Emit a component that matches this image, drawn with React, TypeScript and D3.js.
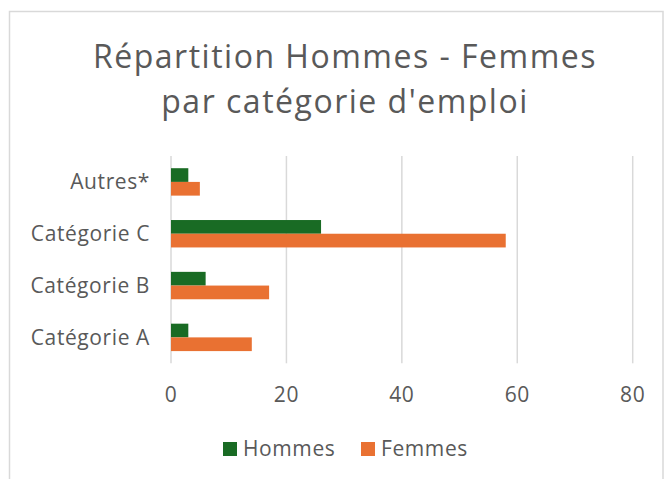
import React from 'react';
import * as d3 from 'd3';

const categories = ['Autres*', 'Catégorie C', 'Catégorie B', 'Catégorie A'];
const hommes = [3, 26, 6, 3];
const femmes = [5, 58, 17, 14];
const series = ['Hommes', 'Femmes'];
const colors = ['#196B24', '#E97132'];
const xTicks = [0, 20, 40, 60, 80];
const titleLines = ['Répartition Hommes - Femmes', "par catégorie d'emploi"];

const W = 664,
  H = 479,
  font = "'Open Sans', sans-serif",
  textColor = '#595959';

const x = d3.scaleLinear().domain([0, 80]).range([171, 632.7]);
const y = d3.scaleBand().domain(categories).range([156, 363.3]).paddingInner(0.471).paddingOuter(0.2355);
const sub = d3.scaleBand().domain(series).range([0, y.bandwidth()]);

// text style shared by axis labels and legend
const small = { fontFamily: font, fontSize: 21, fill: textColor, letterSpacing: 0.6 };
const big = { fontFamily: font, fontSize: 32, fill: textColor, letterSpacing: 1.5 };

export default function App() {
  const values = [hommes, femmes];
  return (
    <svg width={W} height={H} style={{ position: 'absolute', left: 0, top: 0 }}>
      <rect x={9.5} y={11.5} width={653.5} height={480} fill="#fff" stroke="#d9d9d9" strokeWidth={1.5} />
      {titleLines.map((l, i) => (
        <text key={i} x={345} y={68 + i * 45} textAnchor="middle" {...big}>{l}</text>
      ))}

      {xTicks.map(t => (
        <g key={t}>
          <line x1={x(t)} x2={x(t)} y1={156} y2={363.3} stroke="#d9d9d9" strokeWidth={1.5} />
          <text x={x(t)} y={402} textAnchor="middle" {...small}>{t}</text>
        </g>
      ))}

      {categories.map((c, i) => (
        <g key={c}>
          <text x={150} y={y(c)! + y.bandwidth() / 2} dy="0.36em" textAnchor="end" {...small}>{c}</text>
          {series.map((s, j) => (
            <rect key={s} x={x(0)} y={y(c)! + sub(s)!} width={x(values[j][i]) - x(0)} height={sub.bandwidth()} fill={colors[j]} />
          ))}
        </g>
      ))}

      {series.map((s, j) => {
        const lx = [223, 361][j];
        return (
          <g key={s}>
            <rect x={lx} y={442} width={14} height={14} fill={colors[j]} />
            <text x={lx + 20} y={456} {...small}>{s}</text>
          </g>
        );
      })}
    </svg>
  );
}
